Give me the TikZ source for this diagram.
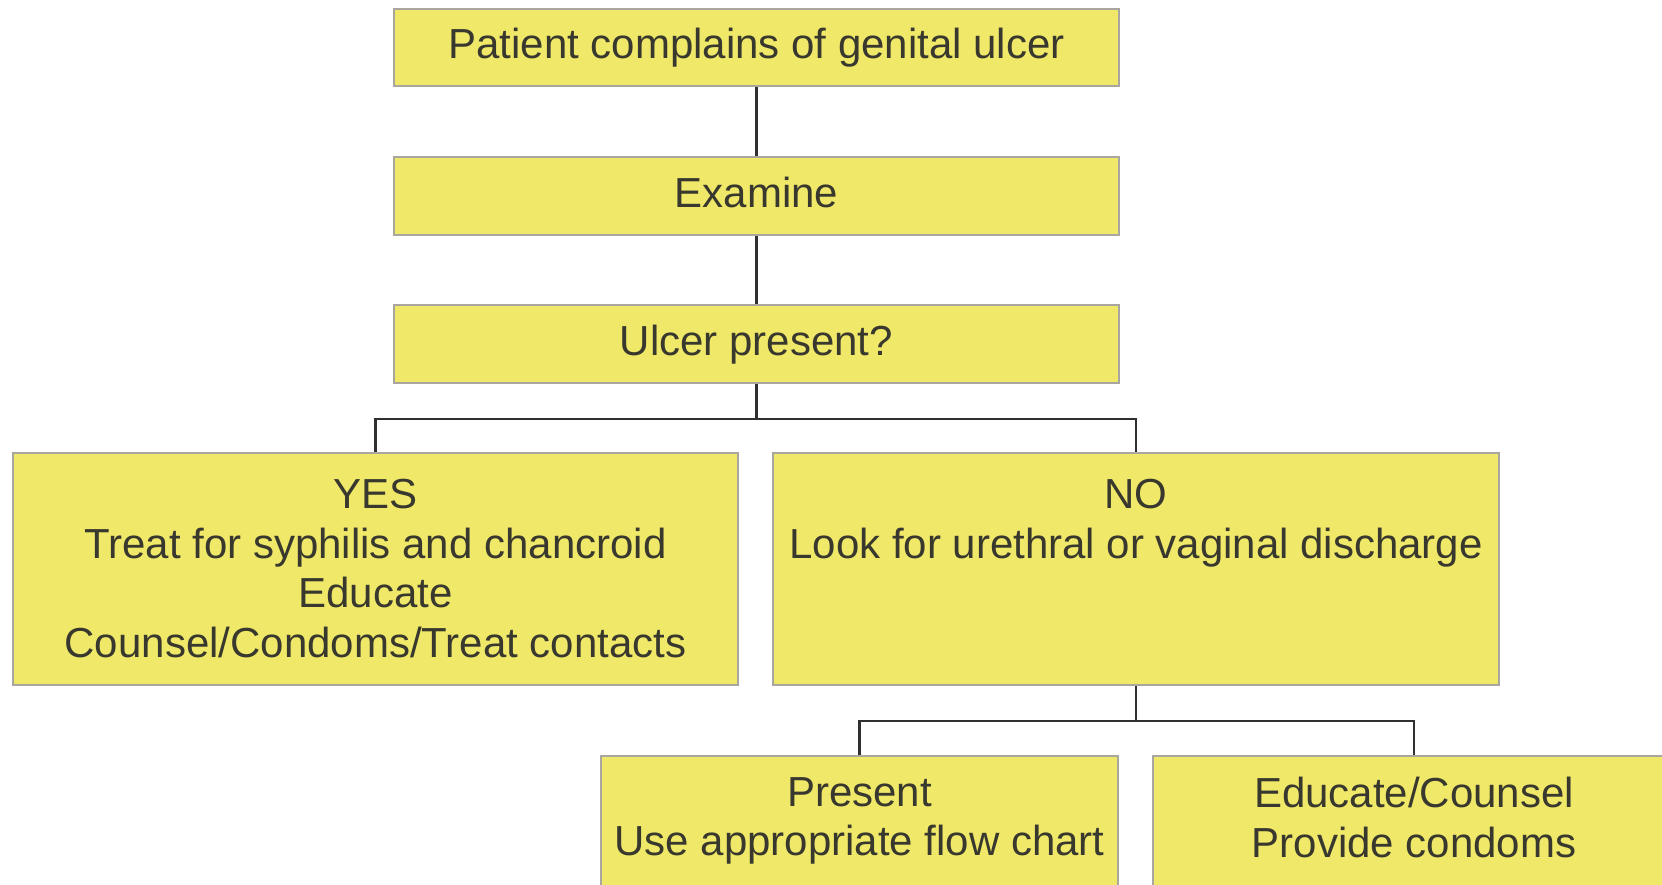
\documentclass[tikz,border=0pt]{standalone}
\usepackage{fontspec}
\setmainfont{Liberation Sans}
\definecolor{boxfill}{RGB}{240,232,104}
\definecolor{boxline}{RGB}{168,166,158}
\definecolor{ink}{RGB}{56,56,46}
\definecolor{wirecol}{RGB}{48,48,48}
\begin{document}
\begin{tikzpicture}[x=1pt,y=-1pt,
  box/.style={draw=boxline, line width=2pt, fill=boxfill, inner sep=0pt},
  caption/.style={text=ink, font=\fontsize{42}{49.5}\selectfont, align=center, inner sep=0pt},
  oneline/.style={box, caption, text height=31pt, text depth=9pt},
  wire/.style={draw=wirecol, line width=2.4pt}]
\useasboundingbox (0,0) rectangle (1662,884);
\clip (0,0) rectangle (1662,884);

% main column of single-line steps
\node[oneline, minimum width=725pt, minimum height=77pt] (complain) at (756.5,47.5) {Patient complains of genital ulcer};
\node[oneline, minimum width=725pt, minimum height=78pt] (examine) at (756.5,196) {Examine};
\node[oneline, minimum width=725pt, minimum height=78pt] (ulcer) at (756.5,344) {Ulcer present?};

% yes / no outcomes
\node[box, minimum width=725pt, minimum height=232pt] (yes) at (375.5,569) {};
\node[caption, anchor=north] (yestext) at (375.5,479) {YES\\Treat for syphilis and chancroid\\Educate\\Counsel/Condoms/Treat contacts};
\node[box, minimum width=726pt, minimum height=232pt] (no) at (1136,569) {};
\node[caption, anchor=north] (notext) at (1136,479) {NO\\Look for urethral or vaginal discharge};

% discharge present / absent
\node[box, minimum width=517pt, minimum height=144pt] (present) at (859.5,828) {};
\node[caption, anchor=north] (presenttext) at (859.5,777) {Present\\Use appropriate flow chart};
\node[box, minimum width=522pt, minimum height=144pt] (absent) at (1414,828) {};
\node[caption, anchor=north] (absenttext) at (1414,777) {Educate/Counsel\\Provide condoms};

% connectors
\draw[wire] (complain.south) -- (examine.north);
\draw[wire] (examine.south) -- (ulcer.north);
\draw[wire] (ulcer.south) -- ++(0,35) -| (yes.north);
\draw[wire] (ulcer.south) -- ++(0,35) -| (no.north);
\draw[wire] (no.south) -- ++(0,35) -| (present.north);
\draw[wire] (no.south) -- ++(0,35) -| (absent.north);
\end{tikzpicture}
\end{document}
